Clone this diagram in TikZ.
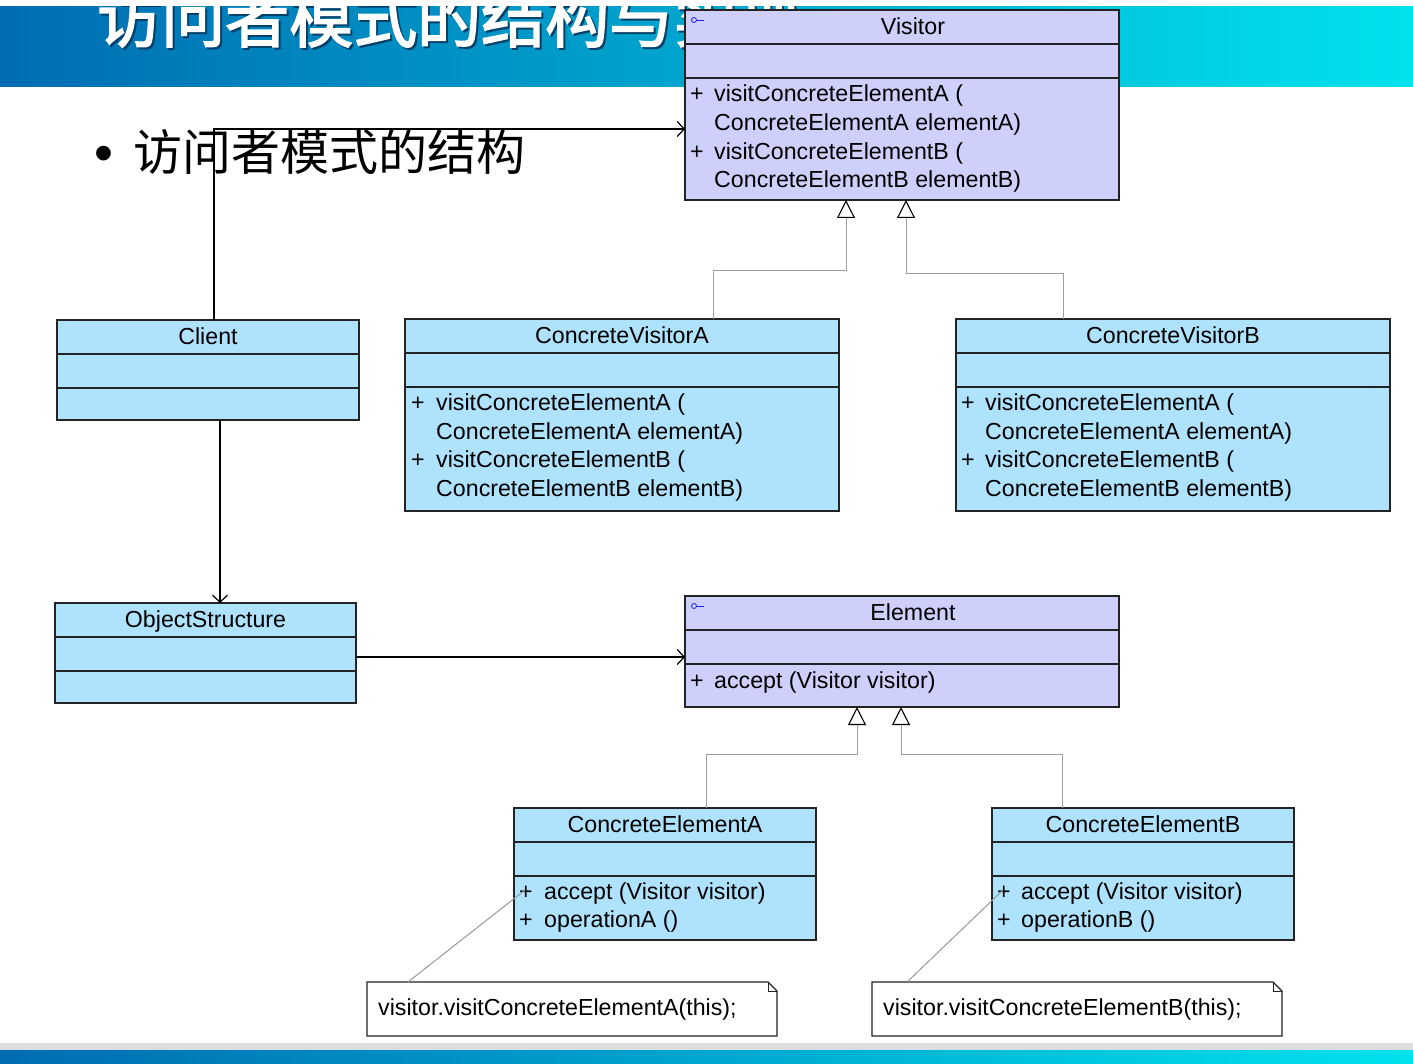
\documentclass[tikz,border=0pt]{standalone}
\usepackage{fontspec}
\setmainfont{Liberation Sans}
\newfontfamily\cjk{Noto Sans CJK SC}
\newfontfamily\cjkb[FakeBold=2.5]{Noto Sans CJK SC}
\usetikzlibrary{arrows.meta}
\definecolor{lav}{RGB}{207,207,252}
\definecolor{lblue}{RGB}{174,226,253}
\definecolor{bord}{RGB}{35,35,35}
\definecolor{bannerL}{RGB}{0,108,178}
\definecolor{bannerR}{RGB}{0,226,236}
\definecolor{stripgray}{RGB}{220,221,224}
\definecolor{icon}{RGB}{30,30,230}
\tikzset{
  clsbox/.style={draw=bord, line width=1.4pt, anchor=north west, inner sep=0pt, outer sep=0pt},
  clsline/.style={draw=bord, line width=1.2pt},
  txt/.style={font=\fontsize{23.2}{27}\selectfont, inner sep=0pt, text height=16.6pt, text depth=0pt},
  mem/.style={txt, anchor=west},
  ttl/.style={txt, anchor=center},
  assoc/.style={draw=black, line width=1.2pt, -{Straight Barb[length=7pt,width=15pt,line width=1.2pt]}},
  gen/.style={draw=gray!75, line width=1pt, -{Triangle[length=18pt,width=18pt,fill=white,color=black,line width=1.1pt]}},
  notelink/.style={draw=gray!80, line width=1pt},
  notebox/.style={anchor=north west, inner sep=0pt, outer sep=0pt, minimum width=410pt, minimum height=54pt},
}
\newcommand\umlbox[8]{%
  \node[clsbox, fill=#6, minimum width=#4pt, minimum height=#5pt] (#1) at (#2,-#3) {};
  \draw[clsline] ([yshift=-34pt]#1.north west) -- ([yshift=-34pt]#1.north east);
  \draw[clsline] ([yshift=-68pt]#1.north west) -- ([yshift=-68pt]#1.north east);
  \node[ttl] (#1-t) at ([xshift=#8pt,yshift=-16pt]#1.north) {#7};
}
\newcommand\memplus[5]{%
  \node[mem] (#1p) at (#2,-#4) {+};
  \node[mem] (#1) at (#3,-#4) {#5};
}
\newcommand\memcont[4]{%
  \node[mem] (#1) at (#2,-#3) {#4};
}
\newcommand\iface[3]{%
  \node[draw=icon, circle, inner sep=0pt, minimum size=5pt, line width=0.8pt] (#1) at (#2,-#3) {};
  \draw[icon, line width=0.8pt] (#1.east) -- ++(7,0);
}
\newcommand\notebox[4]{%
  \node[notebox] (#1) at (#2,-#3) {};
  \draw[draw=bord, fill=white, line width=1.2pt] (#1.north west) -- ([xshift=-9pt]#1.north east) -- ([yshift=-9pt]#1.north east) -- (#1.south east) -- (#1.south west) -- cycle;
  \draw[draw=bord, line width=1pt] ([xshift=-9pt]#1.north east) |- ([yshift=-9pt]#1.north east);
  \node[mem] (#1-t) at ([xshift=11pt,yshift=-25pt]#1.north west) {#4};
}
\begin{document}
\begin{tikzpicture}[x=1pt,y=1pt]
\useasboundingbox (0,0) rectangle (1413,-1064);
\fill[white] (0,0) rectangle (1413,-1064);
% banner
\shade[left color=bannerL, right color=bannerR] (0,-7) rectangle (1413,-87);
\begin{scope}
  \clip (0,-7) rectangle (1413,-87);
  \node[anchor=base west, inner sep=0pt, text=bannerL!60!black, font=\cjkb\fontsize{64}{64}\selectfont] (titleshadow) at (99,-44) {访问者模式的结构与实现};
  \node[anchor=base west, inner sep=0pt, text=white, font=\cjkb\fontsize{64}{64}\selectfont] (title) at (97,-42) {访问者模式的结构与实现};
\end{scope}
% bottom strips
\fill[stripgray] (0,-1043) rectangle (1413,-1050);
\shade[left color=bannerL, right color=bannerR] (0,-1050) rectangle (1413,-1064);
% bullet
\node[anchor=base, inner sep=0pt, font=\fontsize{54}{54}\selectfont] (bul) at (104,-172) {•};
\node[anchor=base west, inner sep=0pt, font=\cjk\fontsize{49}{49}\selectfont] (heading) at (133,-171) {访问者模式的结构};
% classes
\umlbox{visitor}{685}{10}{434}{190}{lav}{Visitor}{11}
\iface{vicon}{694}{20}
\memplus{vm1}{690}{714}{93}{visitConcreteElementA (}
\memcont{vm2}{714}{122}{ConcreteElementA elementA)}
\memplus{vm3}{690}{714}{151}{visitConcreteElementB (}
\memcont{vm4}{714}{179}{ConcreteElementB elementB)}

\umlbox{client}{57}{320}{302}{100}{lblue}{Client}{0}

\umlbox{cva}{405}{319}{434}{192}{lblue}{ConcreteVisitorA}{0}
\memplus{am1}{411}{436}{402}{visitConcreteElementA (}
\memcont{am2}{436}{431}{ConcreteElementA elementA)}
\memplus{am3}{411}{436}{459}{visitConcreteElementB (}
\memcont{am4}{436}{488}{ConcreteElementB elementB)}

\umlbox{cvb}{956}{319}{434}{192}{lblue}{ConcreteVisitorB}{0}
\memplus{bm1}{961}{985}{402}{visitConcreteElementA (}
\memcont{bm2}{985}{431}{ConcreteElementA elementA)}
\memplus{bm3}{961}{985}{459}{visitConcreteElementB (}
\memcont{bm4}{985}{488}{ConcreteElementB elementB)}

\umlbox{objs}{55}{603}{301}{100}{lblue}{ObjectStructure}{0}

\umlbox{element}{685}{596}{434}{111}{lav}{Element}{11}
\iface{eicon}{694}{606}
\memplus{em1}{690}{714}{680}{accept (Visitor visitor)}

\umlbox{cea}{514}{808}{302}{132}{lblue}{ConcreteElementA}{0}
\memplus{cam1}{519}{544}{891}{accept (Visitor visitor)}
\memplus{cam2}{519}{544}{919}{operationA ()}

\umlbox{ceb}{992}{808}{302}{132}{lblue}{ConcreteElementB}{0}
\memplus{cbm1}{997}{1021}{891}{accept (Visitor visitor)}
\memplus{cbm2}{997}{1021}{919}{operationB ()}

% notes
\notebox{noteA}{367}{982}{visitor.visitConcreteElementA(this);}
\notebox{noteB}{872}{982}{visitor.visitConcreteElementB(this);}
\coordinate (linkA) at (525,-890);
\coordinate (linkB) at (1003,-890);
\draw[notelink] ([xshift=41pt]noteA.north west) -- (linkA);
\draw[notelink] ([xshift=35pt]noteB.north west) -- (linkB);

% associations
\draw[assoc] ([xshift=6pt]client.north) |- ([yshift=-119pt]visitor.north west);
\draw[assoc] ([xshift=12pt]client.south) -- ([xshift=12pt]client.south |- objs.north);
\draw[assoc] ([yshift=-54pt]objs.north east) -- ([yshift=-54pt]objs.north east -| element.west);

% generalizations
\draw[gen] ([xshift=308pt]cva.north west) -- ++(0,48) -| ([xshift=161pt]visitor.south west);
\draw[gen] ([xshift=107pt]cvb.north west) -- ++(0,45) -| ([xshift=221pt]visitor.south west);
\draw[gen] ([xshift=192pt]cea.north west) -- ++(0,54) -| ([xshift=172pt]element.south west);
\draw[gen] ([xshift=70pt]ceb.north west) -- ++(0,54) -| ([xshift=216pt]element.south west);
\end{tikzpicture}
\end{document}
